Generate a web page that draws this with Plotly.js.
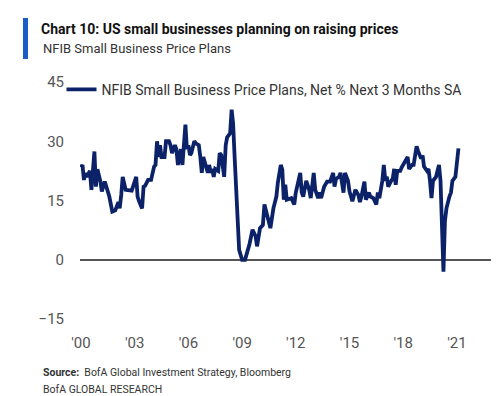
<!DOCTYPE html>
<html>
<head>
<meta charset="utf-8">
<script src="https://cdn.plot.ly/plotly-3.0.1.min.js"></script>
<style>html,body{margin:0;padding:0;background:#fff;}#chart{width:500px;height:396px;}</style>
</head>
<body>
<div id="chart"></div>
<script>
// Observation dates (month of reading) and values, NFIB price plans, net % next 3 months SA
var dates = [
"2000-01","2000-02","2000-03","2000-04","2000-05","2000-07","2000-08","2000-09","2000-10","2000-11","2000-12",
"2001-02","2001-03","2001-05","2001-07","2001-08","2001-10","2001-12",
"2002-02","2002-03","2002-04","2002-05","2002-07","2002-08","2002-11",
"2003-02","2003-03","2003-04","2003-06","2003-07","2003-08","2003-10","2003-12",
"2004-02","2004-03","2004-04","2004-05","2004-06","2004-07","2004-09","2004-10","2004-12",
"2005-01","2005-02","2005-04","2005-05","2005-06","2005-08","2005-09","2005-11","2005-12",
"2006-01","2006-02","2006-03","2006-05","2006-06","2006-08","2006-09","2006-10","2006-11",
"2007-01","2007-02","2007-03","2007-04","2007-05","2007-06","2007-07","2007-09","2007-10","2007-11",
"2008-01","2008-02","2008-03","2008-05","2008-06","2008-07","2008-08","2008-10","2008-11",
"2009-01","2009-03","2009-06","2009-08","2009-10","2009-11",
"2010-01","2010-03","2010-04","2010-06","2010-08","2010-10","2010-12",
"2011-01","2011-03","2011-04","2011-05","2011-06","2011-07","2011-10","2011-12",
"2012-01","2012-02","2012-04","2012-05","2012-06","2012-08","2012-10","2012-11",
"2013-01","2013-02","2013-04","2013-05","2013-06","2013-08","2013-10","2013-12",
"2014-02","2014-03","2014-04","2014-06","2014-07","2014-09","2014-10","2014-12",
"2015-01","2015-03","2015-04","2015-05","2015-07","2015-08","2015-09","2015-11","2015-12",
"2016-02","2016-03","2016-05","2016-07","2016-08","2016-09","2016-11","2016-12",
"2017-01","2017-02","2017-03","2017-05","2017-06","2017-07","2017-08","2017-09","2017-11","2017-12",
"2018-01","2018-03","2018-04","2018-05","2018-07","2018-08","2018-10","2018-11",
"2019-01","2019-02","2019-03","2019-05","2019-06","2019-07","2019-08","2019-09","2019-11","2019-12",
"2020-01","2020-02","2020-04","2020-05","2020-06","2020-08","2020-09","2020-10","2020-12",
"2021-02"
];
var priceplans = [
23.4,24,20.2,22,21,22.5,17.7,24.5,27.4,18.5,22.9,
19.8,17.3,19.8,17,16,12.2,12.5,
14.6,13,16.4,21,17.7,17.7,17.5,
21,16,14.8,13,18.5,18.7,20.2,20.2,
23.6,24,30,26,29,26,26,30,30,
29,27,29,28,24,28,24,34.2,28,
29,26.5,27,30,29.5,29,26,22,26,
23,22,24,22,23,21,23,22.5,27,26.5,
21,29,31,32,38,34.5,26,11.8,2.5,
0,0,4,7.6,6,3.4,
8,8.8,14,11,8,13,16,
19.6,24,22.8,15.2,19,15.2,15.6,14,
17,18.5,22,17,16,20,17.7,15.6,
22,17.7,15.6,17,15.6,18.5,19.8,19.8,
22,18.5,20.5,21,22,17,22,20,
17.3,14.8,16,17.7,16.4,14.6,16,19.8,15.2,
17,16,15.6,14,17,15.6,20,24,
20,21,18.5,20,20.5,23,19,22.5,22.5,23.4,
24,25.3,26,23,24,24,28.7,27.5,
25.6,26.4,23.6,22.5,23,20,15.6,20,21,22.5,
24,20,-3,9.8,13,16,17,20,21,
28.2
];
var tickDates = ["2000-01-01","2003-01-01","2006-01-01","2009-01-01","2012-01-01","2015-01-01","2018-01-01","2021-01-01"];
var tickLabels = ["'00","'03","'06","'09","'12","'15","'18","'21"];
var yTicks = [-15, 0, 15, 30, 45];
var seriesName = "NFIB Small Business Price Plans, Net % Next 3 Months SA";

var FONT = "'Roboto', 'Liberation Sans', sans-serif";

var trace = {
  x: dates, y: priceplans, type: 'scatter', mode: 'lines', name: seriesName,
  line: {color: '#0b2268', width: 3.8}
};

var layout = {
  width: 500, height: 396,
  margin: {l: 80, r: 9, t: 82, b: 77},
  paper_bgcolor: '#fff', plot_bgcolor: '#fff',
  font: {family: FONT, color: '#444', size: 14},
  title: {
    text: '<b>Chart 10: US small businesses planning on raising prices</b>',
    x: 41/500, xref: 'container', xanchor: 'left',
    y: 1 - 29/396, yref: 'container', yanchor: 'middle',
    font: {family: FONT, size: 14, color: '#111'}
  },
  showlegend: true,
  legend: {
    x: -0.045, xanchor: 'left', y: 1.035, yanchor: 'top',
    font: {family: FONT, size: 14, color: '#333'},
    bgcolor: 'rgba(0,0,0,0)', borderwidth: 0, itemwidth: 30
  },
  xaxis: {
    type: 'date',
    range: ['1999-12-12', '2022-11-27'],
    tickvals: tickDates, ticktext: tickLabels,
    showgrid: false, zeroline: false, showline: false,
    ticks: 'outside', ticklen: 10, tickcolor: 'rgba(0,0,0,0)',
    tickfont: {family: FONT, size: 15, color: '#555'}
  },
  yaxis: {
    range: [-15, 45], tickvals: yTicks,
    showgrid: false, showline: false,
    zeroline: true, zerolinecolor: '#555', zerolinewidth: 1.5,
    ticks: 'outside', ticklen: 12, tickcolor: 'rgba(0,0,0,0)',
    tickfont: {family: FONT, size: 15, color: '#555'}
  },
  shapes: [
    {type: 'rect', xref: 'paper', yref: 'paper',
     x0: (23-80)/411, x1: (28-80)/411, y0: 1 + (82-59)/237, y1: 1 + (82-18)/237,
     fillcolor: '#1a5dc4', line: {width: 0}}
  ],
  annotations: [
    {text: 'NFIB Small Business Price Plans', xref: 'paper', yref: 'paper',
     x: (41-80)/411, xanchor: 'left', y: 1 + (82-49)/237, yanchor: 'middle',
     showarrow: false, font: {family: FONT, size: 13, color: '#333'}},
    {text: '<b>Source:</b>  BofA Global Investment Strategy, Bloomberg', xref: 'paper', yref: 'paper',
     x: (41-80)/411, xanchor: 'left', y: (319-372)/237, yanchor: 'middle',
     showarrow: false, font: {family: FONT, size: 10.5, color: '#333'}},
    {text: 'BofA GLOBAL RESEARCH', xref: 'paper', yref: 'paper',
     x: (41-80)/411, xanchor: 'left', y: (319-389)/237, yanchor: 'middle',
     showarrow: false, font: {family: FONT, size: 10.5, color: '#333'}}
  ]
};

Plotly.newPlot('chart', [trace], layout, {displayModeBar: false, staticPlot: true});
</script>
</body>
</html>
